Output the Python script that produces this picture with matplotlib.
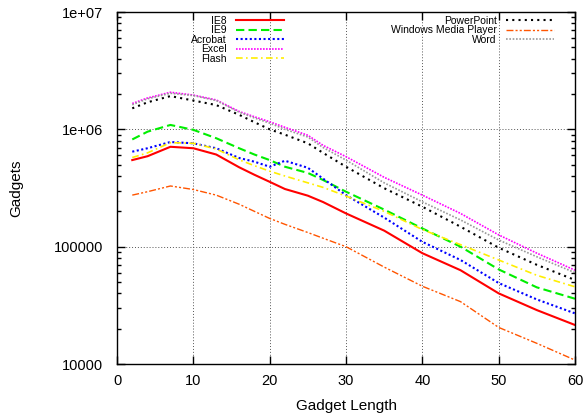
import matplotlib
matplotlib.use('Agg')
import matplotlib.pyplot as plt

plt.rcParams['font.family'] = ['Liberation Sans', 'DejaVu Sans']

# data (x = gadget length)
length = [2, 4, 7, 10, 13, 16, 18, 20, 22, 25, 27, 30, 35, 40, 45, 50, 55, 60]
ie8 = [5.47e5, 5.9e5, 7.1e5, 6.9e5, 6.1e5, 4.75e5, 4.1e5, 3.57e5, 3.1e5, 2.72e5,
       2.4e5, 1.92e5, 1.37e5, 8.8e4, 6.3e4, 4.0e4, 2.88e4, 2.15e4]
ie9 = [8.2e5, 9.55e5, 1.09e6, 9.9e5, 8.4e5, 6.9e5, 6.1e5, 5.47e5, 4.8e5, 4.25e5,
       3.7e5, 2.94e5, 2.07e5, 1.43e5, 1.0e5, 6.4e4, 4.5e4, 3.6e4]
acrobat = [6.45e5, 6.9e5, 7.8e5, 7.6e5, 6.9e5, 5.7e5, 5.3e5, 4.8e5, 5.4e5, 4.7e5,
           3.8e5, 2.75e5, 1.77e5, 1.1e5, 7.7e4, 4.9e4, 3.55e4, 2.7e4]
excel = [1.66e6, 1.85e6, 2.07e6, 1.96e6, 1.78e6, 1.42e6, 1.28e6, 1.16e6, 1.04e6, 8.9e5,
         7.3e5, 5.85e5, 3.9e5, 2.75e5, 1.92e5, 1.26e5, 8.8e4, 6.3e4]
flash = [5.75e5, 6.3e5, 7.7e5, 7.6e5, 6.8e5, 5.5e5, 4.9e5, 4.4e5, 4.0e5, 3.5e5,
         3.2e5, 2.7e5, 2.0e5, 1.4e5, 1.04e5, 7.7e4, 5.7e4, 4.55e4]
powerpoint = [1.51e6, 1.7e6, 1.92e6, 1.76e6, 1.61e6, 1.33e6, 1.15e6, 1.0e6, 9.0e5, 7.6e5,
              6.3e5, 4.8e5, 3.15e5, 2.19e5, 1.48e5, 9.8e4, 7.0e4, 5.2e4]
wmp = [2.75e5, 2.94e5, 3.29e5, 3.07e5, 2.75e5, 2.3e5, 2.0e5, 1.74e5, 1.55e5, 1.32e5,
       1.18e5, 1.0e5, 6.7e4, 4.6e4, 3.4e4, 2.05e4, 1.5e4, 1.08e4]
word = [1.62e6, 1.82e6, 2.03e6, 1.94e6, 1.76e6, 1.4e6, 1.25e6, 1.13e6, 1.0e6, 8.6e5,
        7.0e5, 5.47e5, 3.5e5, 2.41e5, 1.69e5, 1.14e5, 8.2e4, 6.0e4]

x_ticks = [0, 10, 20, 30, 40, 50, 60]
y_ticks = [1e4, 1e5, 1e6, 1e7]
y_ticklabels = ['10000', '100000', '1e+06', '1e+07']

fig = plt.figure(figsize=(5.87, 4.19), dpi=100)
ax = fig.add_axes([117/587, 1-364/419, 458/587, 352/419])

# first key
h1 = []
h1 += ax.plot(length, ie8, color='red', lw=1.5, label='IE8')
h1 += ax.plot(length, ie9, color='#00ee00', lw=1.5, ls=(0, (4, 2)), label='IE9')
h1 += ax.plot(length, acrobat, color='blue', lw=1.5, ls=(0, (1, 1.2)), label='Acrobat')
h1 += ax.plot(length, excel, color='#ff00ff', lw=1.2, ls=(0, (1, 0.8)), label='Excel')
h1 += ax.plot(length, flash, color='#ffee00', lw=1.2, ls=(0, (4, 2, 1, 2)), label='Flash')
# second key
h2 = []
h2 += ax.plot(length, powerpoint, color='black', lw=1.5, ls=(0, (1, 2)), label='PowerPoint')
h2 += ax.plot(length, wmp, color='#ff5500', lw=1.0, ls=(0, (5, 1.5, 1.5, 1.5, 1.5, 1.5)),
              label='Windows Media Player')
h2 += ax.plot(length, word, color='#999999', lw=1.2, ls=(0, (1, 1)), label='Word')

ax.set_yscale('log')
ax.set_xlim(0, 60)
ax.set_ylim(1e4, 1e7)
ax.set_xticks(x_ticks)
ax.set_xticklabels([str(t) for t in x_ticks])
ax.set_yticks(y_ticks)
ax.set_yticklabels(y_ticklabels)
ax.tick_params(which='both', direction='in', top=True, right=True, labelsize=10.5)
ax.tick_params(which='major', length=6, width=1)
ax.tick_params(which='minor', length=3, width=1)
ax.tick_params(axis='x', pad=7)
ax.tick_params(axis='y', pad=10)
for s in ax.spines.values():
    s.set_linewidth(1.0)

ax.grid(True, which='major', color='#555555', lw=0.7, ls=(0, (1, 2)))

ax.set_xlabel('Gadget Length', fontsize=11, labelpad=8)
ax.set_ylabel('Gadgets', fontsize=11, labelpad=22)

leg_kw = dict(frameon=False, markerfirst=False, fontsize=7.5, handlelength=4.6,
              handletextpad=0.9, borderpad=0, borderaxespad=0, labelspacing=-0.05)
leg1 = ax.legend(handles=h1, loc='upper right',
                 bbox_to_anchor=((284-117)/458, (364-16)/352), **leg_kw)
ax.add_artist(leg1)
ax.legend(handles=h2, loc='upper right',
          bbox_to_anchor=((554-117)/458, (364-16)/352), **leg_kw)

fig.savefig('out.png', dpi=100)
